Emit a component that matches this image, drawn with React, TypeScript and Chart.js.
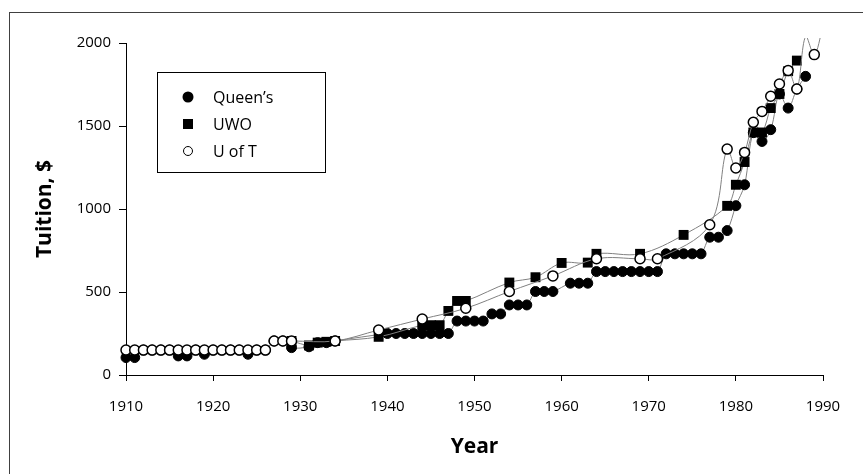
import React, { useEffect, useRef } from 'react';
import { Chart, registerables } from 'chart.js';

Chart.register(...registerables);

const FONT = '"Open Sans", "DejaVu Sans", sans-serif';

const seriesNames = ['Queen’s', 'UWO', 'U of T'];

const queensYears = [
  1910, 1911, 1912, 1913, 1914, 1915, 1916, 1917, 1918, 1919, 1920, 1921, 1922, 1923, 1924, 1925, 1926,
  1927, 1928, 1929, 1931, 1932, 1933, 1934, 1940, 1941, 1942, 1943, 1944, 1945, 1946, 1947, 1948, 1949,
  1950, 1951, 1952, 1953, 1954, 1955, 1956, 1957, 1958, 1959, 1961, 1962, 1963, 1964, 1965, 1966, 1967,
  1968, 1969, 1970, 1971, 1972, 1973, 1974, 1975, 1976, 1977, 1978, 1979, 1980, 1981, 1982, 1983, 1984,
  1985, 1986, 1987, 1988,
];
const queensTuition = [
  105, 105, 150, 150, 150, 150, 115, 115, 150, 125, 150, 150, 150, 150, 125, 150, 150,
  205, 205, 165, 170, 195, 195, 205, 250, 250, 250, 250, 250, 250, 250, 250, 325, 325,
  325, 325, 368, 368, 422, 422, 422, 503, 503, 503, 553, 553, 553, 623, 623, 623, 623,
  623, 623, 623, 623, 730, 730, 730, 730, 730, 830, 830, 870, 1020, 1146, 1460, 1407, 1478,
  1693, 1608, 1723, 1799,
];

const uwoYears = [
  1929, 1931, 1932, 1933, 1934, 1939, 1944, 1945, 1946, 1947, 1948, 1949, 1954, 1957, 1960, 1963, 1964,
  1969, 1974, 1979, 1980, 1981, 1982, 1983, 1984, 1985, 1986, 1987,
];
const uwoTuition = [
  205, 178, 195, 200, 205, 230, 300, 300, 300, 386, 446, 446, 557, 589, 675, 677, 730,
  730, 844, 1019, 1146, 1283, 1461, 1461, 1608, 1693, 1830, 1894,
];

const uoftYears = [
  1910, 1911, 1912, 1913, 1914, 1915, 1916, 1917, 1918, 1919, 1920, 1921, 1922, 1923, 1924, 1925, 1926,
  1927, 1928, 1929, 1934, 1939, 1944, 1949, 1954, 1959, 1964, 1969, 1971, 1977, 1979, 1980, 1981, 1982,
  1983, 1984, 1985, 1986, 1987, 1988, 1989, 1990,
];
const uoftTuition = [
  150, 150, 150, 150, 150, 150, 150, 150, 150, 150, 150, 150, 150, 150, 150, 150, 150,
  205, 205, 205, 205, 271, 337, 402, 503, 597, 700, 700, 700, 905, 1361, 1247, 1341, 1522,
  1588, 1679, 1753, 1834, 1723, 2040, 1930, 2100,
];

const xTickValues = [1910, 1920, 1930, 1940, 1950, 1960, 1970, 1980, 1990];
const yTickValues = [0, 500, 1000, 1500, 2000];
const xAxisTitle = 'Year';
const yAxisTitle = 'Tuition, $';

function toPoints(years: number[], values: number[]) {
  return years.map((x, i) => ({ x, y: values[i] }));
}

const legendPlugin = {
  id: 'boxLegend',
  afterDraw(chart: any) {
    const { ctx, chartArea } = chart;
    const x0 = Math.round(chartArea.left + 31);
    const y0 = Math.round(chartArea.top + 29);
    const w = 168;
    const h = 100;
    ctx.save();
    ctx.fillStyle = '#ffffff';
    ctx.fillRect(x0, y0, w, h);
    ctx.strokeStyle = '#000000';
    ctx.lineWidth = 1;
    ctx.strokeRect(x0 + 0.5, y0 + 0.5, w, h);
    ctx.font = `16px ${FONT}`;
    ctx.textBaseline = 'middle';
    ctx.textAlign = 'left';
    chart.data.datasets.forEach((ds: any, i: number) => {
      const cy = y0 + 25 + i * 27;
      const cx = x0 + 31;
      ctx.beginPath();
      if (ds.pointStyle === 'rect') {
        ctx.fillStyle = ds.pointBackgroundColor;
        ctx.fillRect(cx - 5, cy - 5, 10, 10);
      } else if (ds.pointBackgroundColor === '#000000') {
        ctx.fillStyle = '#000000';
        ctx.arc(cx, cy, 5.5, 0, Math.PI * 2);
        ctx.fill();
      } else {
        ctx.fillStyle = '#ffffff';
        ctx.strokeStyle = '#000000';
        ctx.lineWidth = 1;
        ctx.arc(cx, cy, 4.5, 0, Math.PI * 2);
        ctx.fill();
        ctx.stroke();
      }
      ctx.fillStyle = '#000000';
      ctx.fillText(ds.label, x0 + 56, cy + 1);
    });
    ctx.restore();
  },
};

const hideAbove = (c: any) => (c.raw && c.raw.y > 2000 ? 0 : undefined);

export default function App() {
  const canvasRef = useRef<HTMLCanvasElement | null>(null);

  useEffect(() => {
    const canvas = canvasRef.current;
    if (!canvas) return;
    const clip = { left: 10, top: 5, right: 10, bottom: 10 };
    const chart = new Chart(canvas, {
      type: 'line',
      data: {
        datasets: [
          {
            label: seriesNames[0],
            data: toPoints(queensYears, queensTuition),
            order: 2,
            borderColor: '#808080',
            borderWidth: 1,
            tension: 0.35,
            pointStyle: 'circle',
            pointRadius: (c: any) => hideAbove(c) ?? 5,
            pointBackgroundColor: '#000000',
            pointBorderColor: '#000000',
            pointBorderWidth: 1,
            clip,
          },
          {
            label: seriesNames[1],
            data: toPoints(uwoYears, uwoTuition),
            order: 1,
            borderColor: '#808080',
            borderWidth: 1,
            tension: 0.35,
            pointStyle: 'rect',
            pointRadius: (c: any) => hideAbove(c) ?? 7,
            pointBackgroundColor: '#000000',
            pointBorderColor: '#000000',
            pointBorderWidth: 0,
            clip,
          },
          {
            label: seriesNames[2],
            data: toPoints(uoftYears, uoftTuition),
            order: 0,
            borderColor: '#808080',
            borderWidth: 1,
            tension: 0.35,
            pointStyle: 'circle',
            pointRadius: (c: any) => hideAbove(c) ?? 5,
            pointBackgroundColor: '#ffffff',
            pointBorderColor: '#000000',
            pointBorderWidth: 1.5,
            clip,
          },
        ],
      } as any,
      options: {
        animation: false,
        responsive: false,
        maintainAspectRatio: false,
        layout: { padding: { left: 0, right: 40, top: 43, bottom: 0 } },
        plugins: {
          legend: { display: false },
          tooltip: { enabled: false },
        },
        scales: {
          x: {
            type: 'linear',
            min: 1910,
            max: 1990,
            afterBuildTicks: (s: any) => {
              s.ticks = xTickValues.map((v) => ({ value: v }));
            },
            afterFit: (s: any) => {
              s.height = 99;
            },
            grid: { display: true, drawOnChartArea: false, drawTicks: true, tickLength: 6, color: '#000000', lineWidth: 1 },
            border: { display: true, color: '#000000', width: 1 },
            ticks: {
              color: '#000000',
              font: { family: FONT, size: 15 },
              padding: 17,
              maxRotation: 0,
              autoSkip: false,
              callback: (v: any) => String(v),
            },
            title: {
              display: true,
              text: xAxisTitle,
              color: '#000000',
              font: { family: FONT, size: 21, weight: 'bold' },
              padding: { top: 0, bottom: 14 },
            },
          },
          y: {
            type: 'linear',
            min: 0,
            max: 2000,
            afterBuildTicks: (s: any) => {
              s.ticks = yTickValues.map((v) => ({ value: v }));
            },
            afterFit: (s: any) => {
              s.width = 126;
            },
            grid: { display: true, drawOnChartArea: false, drawTicks: true, tickLength: 7, color: '#000000', lineWidth: 1 },
            border: { display: true, color: '#000000', width: 1 },
            ticks: {
              color: '#000000',
              font: { family: FONT, size: 15 },
              padding: 8,
              callback: (v: any) => String(v),
            },
            title: {
              display: true,
              text: yAxisTitle,
              color: '#000000',
              font: { family: FONT, size: 21, weight: 'bold' },
              padding: { top: 32, bottom: 0 },
            },
          },
        },
      } as any,
      plugins: [legendPlugin],
    });
    return () => chart.destroy();
  }, []);

  return (
    <div style={{ position: 'fixed', left: 0, top: 0, width: 863, height: 474, overflow: 'hidden', background: '#ffffff' }}>
      <div
        style={{
          position: 'absolute',
          left: 9,
          top: 12,
          width: 900,
          height: 520,
          border: '1px solid #404040',
          boxSizing: 'border-box',
        }}
      />
      <canvas
        ref={canvasRef}
        width={863}
        height={474}
        style={{ position: 'absolute', left: 0, top: 0, width: 863, height: 474, display: 'block' }}
      />
    </div>
  );
}
